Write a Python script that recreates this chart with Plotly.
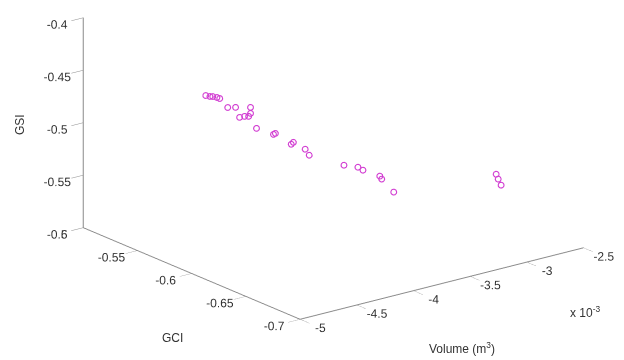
import plotly.graph_objects as go

# Data (Volume in m^3)
VOLUME = [-0.004750, -0.004720, -0.004700, -0.004670, -0.004650, -0.004593, -0.004536,
          -0.004429, -0.004507, -0.004472, -0.004443, -0.004429, -0.004386, -0.004265,
          -0.004251, -0.004137, -0.004122, -0.004037, -0.004008, -0.003759, -0.003659,
          -0.003623, -0.003502, -0.003488, -0.003402, -0.002667, -0.002653, -0.002632]
GCI = [-0.5867, -0.5874, -0.5879, -0.5886, -0.5891, -0.5905, -0.5918, -0.5944, -0.5925,
       -0.5934, -0.5941, -0.5944, -0.5954, -0.5984, -0.5987, -0.6014, -0.6018, -0.6038,
       -0.6045, -0.6105, -0.6129, -0.6138, -0.6167, -0.6170, -0.6191, -0.6367, -0.6371,
       -0.6376]
GSI = [-0.4430, -0.4444, -0.4448, -0.4462, -0.4475, -0.4570, -0.4579, -0.4597, -0.4679,
       -0.4675, -0.4680, -0.4654, -0.4804, -0.4881, -0.4874, -0.4997, -0.4981, -0.5061,
       -0.5123, -0.5260, -0.5296, -0.5330, -0.5407, -0.5438, -0.5576, -0.5529, -0.5578,
       -0.5639]

X_TICKS = [-0.005, -0.0045, -0.004, -0.0035, -0.003, -0.0025]
X_TICKTEXT = ["-5", "-4.5", "-4", "-3.5", "-3", "-2.5"]
Y_TICKS = [-0.7, -0.65, -0.6, -0.55, -0.5]
Y_TICKTEXT = ["-0.7", "-0.65", "-0.6", "-0.55", "-0.5"]
Z_TICKS = [-0.6, -0.55, -0.5, -0.45, -0.4]
Z_TICKTEXT = ["-0.6", "-0.55", "-0.5", "-0.45", "-0.4"]

FONT = "Liberation Sans, Arial, sans-serif"
TXT = "#333333"
LINE = "#8a8a8a"

fig = go.Figure(go.Scatter3d(
    x=VOLUME, y=GCI, z=GSI, mode="markers",
    marker=dict(symbol="circle-open", size=3.6, color="#d23fd2", line=dict(width=2, color="#d23fd2")),
    hoverinfo="skip",
))

axis_common = dict(
    showbackground=False, showgrid=False, zeroline=False, showspikes=False,
    showline=True, linecolor=LINE, linewidth=2,
    ticks="outside", ticklen=15, tickcolor=LINE, tickangle=0,
    tickfont=dict(family=FONT, size=12, color=TXT),
    title=dict(text=""),
)

d = (-0.578, -0.748, 0.3265)
k = 2.0
s = 1.99
c = (-0.1465, 0.0049, -0.248)
fig.update_layout(
    width=624, height=360,
    margin=dict(l=0, r=0, t=0, b=0),
    paper_bgcolor="white",
    showlegend=False,
    scene=dict(
        domain=dict(x=[0, 1], y=[0, 1]),
        xaxis=dict(range=[-0.005, -0.0025], tickvals=X_TICKS, ticktext=X_TICKTEXT, **axis_common),
        yaxis=dict(range=[-0.7, -0.5], tickvals=Y_TICKS, ticktext=Y_TICKTEXT, **axis_common),
        zaxis=dict(range=[-0.6, -0.4], tickvals=Z_TICKS, ticktext=Z_TICKTEXT, **axis_common),
        aspectmode="manual",
        aspectratio=dict(x=1 * s, y=0.99 * s, z=0.62 * s),
        camera=dict(
            eye=dict(x=c[0] + d[0] * k, y=c[1] + d[1] * k, z=c[2] + d[2] * k),
            up=dict(x=0, y=0, z=1),
            center=dict(x=c[0], y=c[1], z=c[2]),
            projection=dict(type="orthographic"),
        ),
    ),
    annotations=[
        dict(text="GSI", x=20 / 624, y=1 - 125 / 360, xref="paper", yref="paper",
             xanchor="center", yanchor="middle",
             showarrow=False, textangle=-90, font=dict(family=FONT, size=12, color=TXT)),
        dict(text="GCI", x=172 / 624, y=1 - 338 / 360, xref="paper", yref="paper",
             xanchor="center", yanchor="middle",
             showarrow=False, font=dict(family=FONT, size=12, color=TXT)),
        dict(text="Volume (m<sup>3</sup>)", x=462 / 624, y=1 - 348 / 360, xref="paper", yref="paper",
             xanchor="center", yanchor="middle",
             showarrow=False, font=dict(family=FONT, size=12, color=TXT)),
        dict(text="x 10<sup>-3</sup>", x=585 / 624, y=1 - 312 / 360, xref="paper", yref="paper",
             xanchor="center", yanchor="middle",
             showarrow=False, font=dict(family=FONT, size=12, color=TXT)),
    ],
)

fig.write_html("out.html")
